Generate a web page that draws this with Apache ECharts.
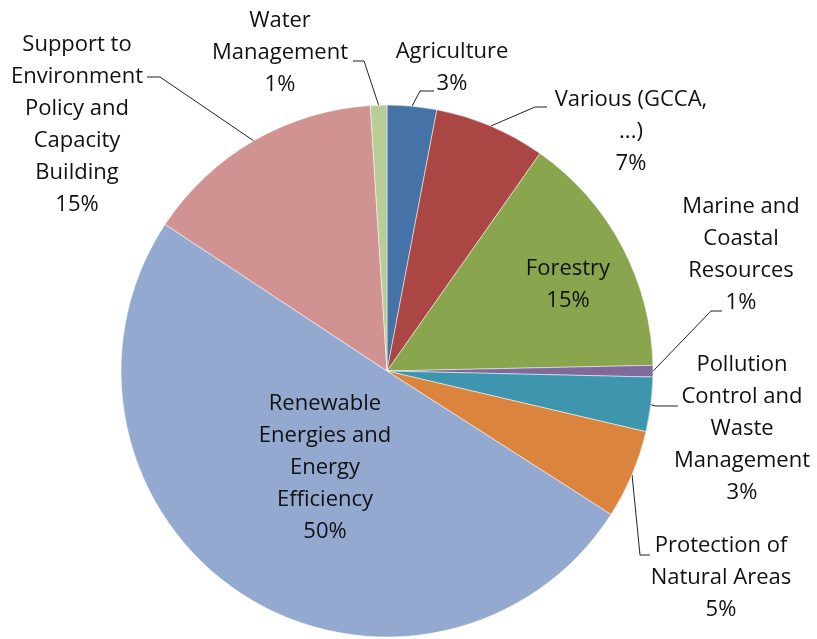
<!DOCTYPE html>
<html>
<head>
<meta charset="utf-8">
<script src="https://cdn.jsdelivr.net/npm/echarts@6/dist/echarts.min.js"></script>
<style>
  html, body { margin: 0; padding: 0; background: #fff; }
  #chart { width: 817px; height: 639px; }
</style>
</head>
<body>
<div id="chart"></div>
<script>
// categories, clockwise from 12 o'clock
const names = [
  "Agriculture",
  "Various (GCCA,\n...)",
  "Forestry",
  "Marine and\nCoastal\nResources",
  "Pollution\nControl and\nWaste\nManagement",
  "Protection of\nNatural Areas",
  "Renewable\nEnergies and\nEnergy\nEfficiency",
  "Support to\nEnvironment\nPolicy and\nCapacity\nBuilding",
  "Water\nManagement"
];
const values = [3.0, 6.75, 14.9, 0.7, 3.3, 5.4, 50.2, 14.7, 1.0];
const colors = ["#4572A7", "#AA4643", "#89A54E", "#80699B", "#3D96AE",
                "#DB843D", "#93A9CF", "#D19392", "#B9CD96"];
const insideLabel = [false, false, true, false, false, false, true, false, false];

// label centres and leader elbows (layout only)
const labelPos = [
  [452, 68], [631, 132], [568, 285], [741, 255], [742, 429],
  [721, 578], [325, 468], [77, 125], [280, 53]
];
const leaderElbow = [
  [[420, 91], [434, 91]],
  [[535, 107], [547, 107]],
  null,
  [[711, 311], [722, 311]],
  [[655, 406], [678, 406]],
  [[640, 555], [650, 555]],
  null,
  [[160, 77], [147, 77]],
  [[364, 61], [353, 61]]
];

const data = names.map((n, i) => ({
  name: n,
  value: values[i],
  itemStyle: { color: colors[i] },
  labelLine: { show: !insideLabel[i] }
}));

const myChart = echarts.init(document.getElementById("chart"));
myChart.setOption({
  animation: false,
  series: [
    {
      type: "pie",
      center: [387, 371],
      radius: 266,
      startAngle: 90,
      clockwise: true,
      itemStyle: { borderColor: "#fff", borderWidth: 0.5 },
      label: {
        show: true,
        color: "#111",
        fontFamily: "Open Sans",
        fontSize: 22,
        lineHeight: 32,
        align: "center",
        overflow: "none",
        formatter: p => p.name + "\n" + Math.round(p.percent) + "%"
      },
      labelLine: {
        show: true,
        length: 10,
        length2: 8,
        lineStyle: { color: "#222", width: 1 }
      },
      labelLayout: params => {
        const i = params.dataIndex;
        const out = {
          x: labelPos[i][0],
          y: labelPos[i][1],
          align: "center",
          verticalAlign: "middle"
        };
        const elbow = leaderElbow[i];
        if (elbow && params.labelLinePoints) {
          out.labelLinePoints = [params.labelLinePoints[0], elbow[0], elbow[1]];
        }
        return out;
      },
      data
    }
  ]
});
</script>
</body>
</html>
